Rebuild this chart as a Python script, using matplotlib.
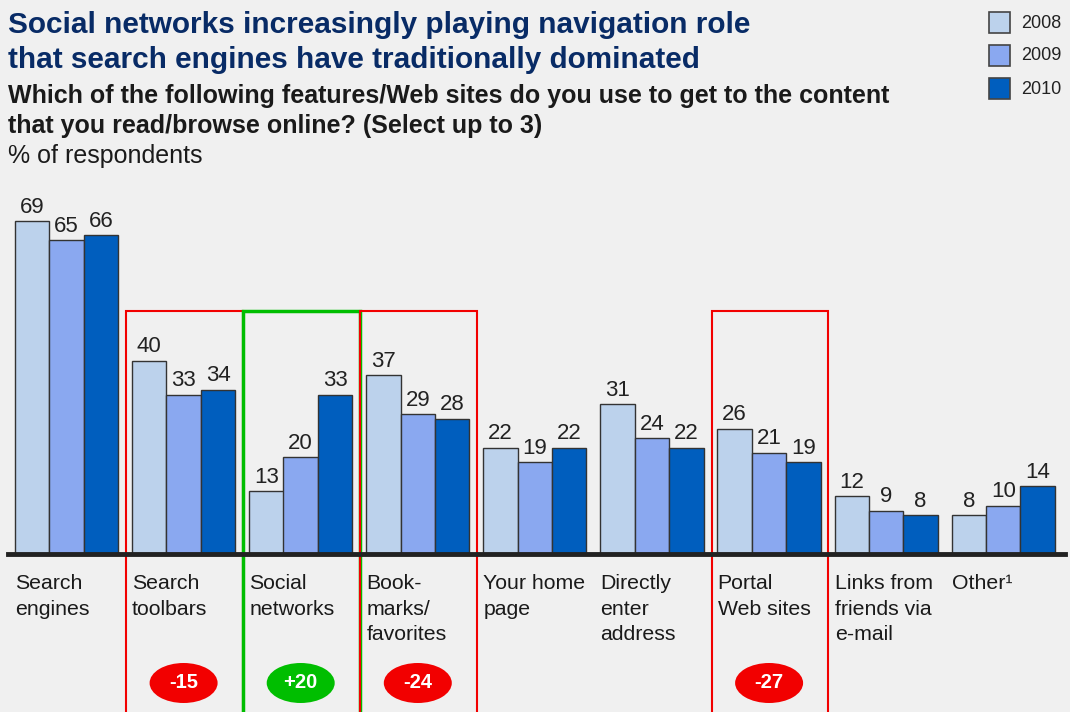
import matplotlib
matplotlib.use("Agg")
import matplotlib.pyplot as plt
from matplotlib.patches import Rectangle, Ellipse
import numpy as np

plt.rcParams['font.family'] = ['Liberation Sans', 'DejaVu Sans']

# data
categories = ["Search\nengines", "Search\ntoolbars", "Social\nnetworks", "Book-\nmarks/\nfavorites",
              "Your home\npage", "Directly\nenter\naddress", "Portal\nWeb sites",
              "Links from\nfriends via\ne-mail", "Other\u00b9"]
years = ["2008", "2009", "2010"]
v2008 = [69, 40, 13, 37, 22, 31, 26, 12, 8]
v2009 = [65, 33, 20, 29, 19, 24, 21, 9, 10]
v2010 = [66, 34, 33, 28, 22, 22, 19, 8, 14]
series = [v2008, v2009, v2010]

# highlighted groups and change badges
hl_idx = [1, 2, 3, 6]
hl_change = ["-15", "+20", "-24", "-27"]

title_lines = ["Social networks increasingly playing navigation role",
               "that search engines have traditionally dominated"]
sub_lines = ["Which of the following features/Web sites do you use to get to the content",
             "that you read/browse online? (Select up to 3)"]

colors = ["#BCD2EC", "#8AA8F0", "#005EBE"]
red = "#F20000"
green = "#00BE00"
bg = "#F0F0F0"

W, H = 1070, 712
fig = plt.figure(figsize=(W / 100, H / 100), dpi=100, facecolor=bg)
ax = fig.add_axes([0, 0, 1, 1])
ax.set_facecolor(bg)

step = 117.1       # px per group
px_unit = 4.826    # px per percent
base_y = 554
ax.set_xlim(-66.5 / step, (W - 66.5) / step)
ax.set_ylim(-(H - base_y) / px_unit, base_y / px_unit)
ax.axis('off')

def py(p):
    # pixel row (from top) -> data y
    return (base_y - p) / px_unit

x = np.arange(len(categories))
bw = 34.4 / step
for k, vals in enumerate(series):
    bars = ax.bar(x + (k - 1) * bw, vals, bw, color=colors[k], edgecolor="#333333",
                  linewidth=1.0, zorder=3)
    for b, v in zip(bars, vals):
        ax.annotate(str(v), (b.get_x() + b.get_width() / 2, v), xytext=(0, 2.5),
                    textcoords="offset points", ha='center', va='bottom',
                    fontsize=16, color="#222222", zorder=4)

# baseline
ax.axhline(0, xmin=8 / W, xmax=1065 / W, color="#222222", linewidth=3.5, zorder=5)

# category labels
for i, lab in enumerate(categories):
    for j, line in enumerate(lab.split("\n")):
        ax.text(i - 51.5 / step, py(589 + 25.7 * j), line, ha='left', va='baseline',
                fontsize=15.3, color="#1a1a1a")

# highlight boxes and badges
box_top = py(311)
for i, ch in zip(hl_idx, hl_change):
    c = green if ch.startswith("+") else red
    lw = 2.5 if c == green else 1.5
    ax.add_patch(Rectangle((i - 0.49, -40), 0.995, box_top + 40, fill=False,
                           edgecolor=c, linewidth=lw, zorder=2))
    ax.add_patch(Ellipse((i, py(683)), 68 / step, 40 / px_unit,
                         facecolor=c, edgecolor='none', zorder=4))
    ax.text(i, py(683), ch, ha='center', va='center', fontsize=14.5,
            fontweight='bold', color='white', zorder=5)

# titles
for j, line in enumerate(title_lines):
    fig.text(8 / W, 1 - (33 + 35 * j) / H, line, ha='left', va='baseline',
             fontsize=21.4, fontweight='bold', color="#082B66")
for j, line in enumerate(sub_lines):
    fig.text(8 / W, 1 - (103 + 30 * j) / H, line, ha='left', va='baseline',
             fontsize=18.0, fontweight='bold', color="#1a1a1a")
fig.text(8 / W, 1 - 163 / H, "% of respondents", ha='left', va='baseline',
         fontsize=18.0, color="#1a1a1a")

# legend
for k, yr in enumerate(years):
    yt = 12 + 33 * k
    fig.patches.append(Rectangle((989 / W, 1 - (yt + 21) / H), 21 / W, 21 / H,
                                 transform=fig.transFigure, facecolor=colors[k],
                                 edgecolor="#444444", linewidth=1.2))
    fig.text(1021 / W, 1 - (yt + 11) / H, yr, ha='left', va='center', fontsize=13,
             color="#222222")

fig.savefig("out.png", dpi=100, facecolor=bg)
